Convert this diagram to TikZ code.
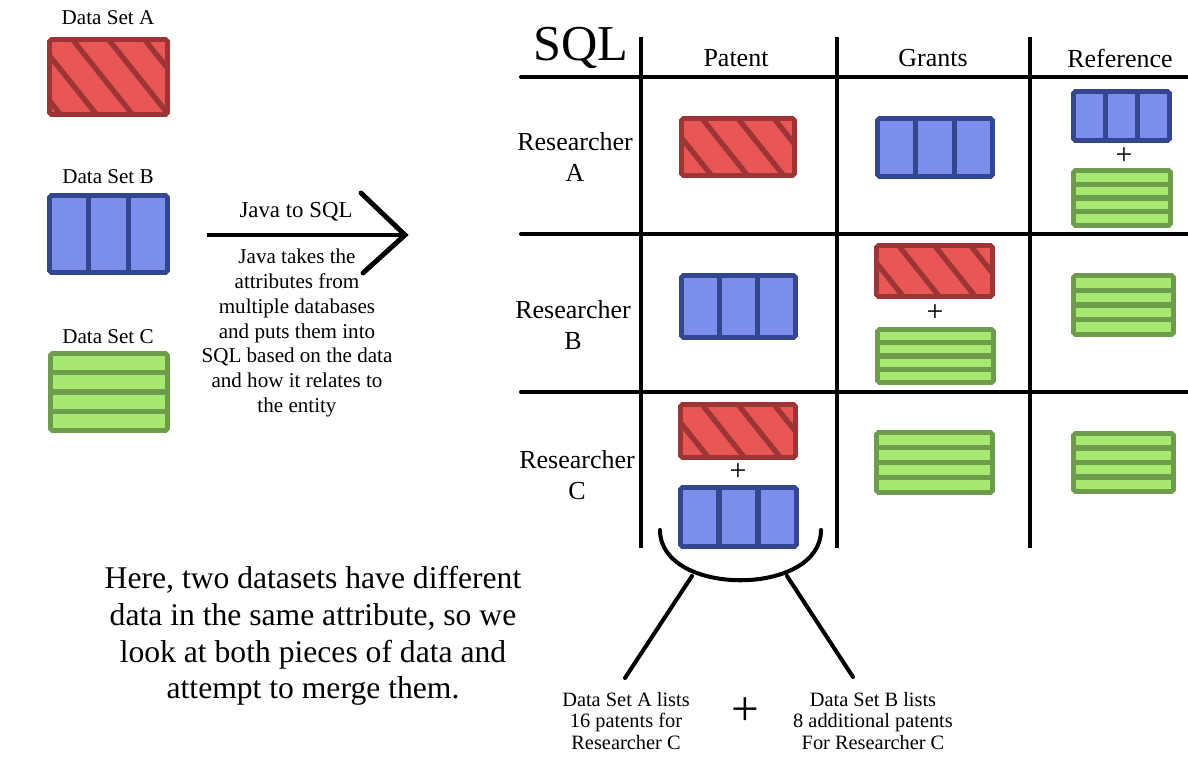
\documentclass[tikz,border=0pt]{standalone}
\usepackage{fontspec}
\setmainfont{Liberation Serif}
\usetikzlibrary{calc}

\definecolor{redfill}{HTML}{E85656}
\definecolor{redline}{HTML}{9E3434}
\definecolor{bluefill}{HTML}{7B8EEC}
\definecolor{blueline}{HTML}{34468F}
\definecolor{greenfill}{HTML}{A6E870}
\definecolor{greenline}{HTML}{6C9C4C}

\tikzset{
  sz/.style 2 args={minimum width=#1*0.02cm, minimum height=#2*0.02cm},
  box/.style={inner sep=0pt, outer sep=0pt, line width=2.6pt, rounded corners=1pt},
  setA/.style={box, draw=redline, fill=redfill, path picture={
      \foreach \s in {-5,...,4}
        \draw[redline, line width=3pt, sharp corners]
          ($(path picture bounding box.north)+(\s*36,0)$) -- ++(100,125);
    }},
  setB/.style={box, draw=blueline, fill=bluefill, path picture={
      \foreach \f in {0.333,0.667}
        \draw[blueline, line width=3pt, sharp corners]
          ($(path picture bounding box.north west)!\f!(path picture bounding box.north east)$) --
          ($(path picture bounding box.south west)!\f!(path picture bounding box.south east)$);
    }},
  setC/.style={box, draw=greenline, fill=greenfill, path picture={
      \foreach \f in {0.25,0.5,0.75}
        \draw[greenline, line width=3pt, sharp corners]
          ($(path picture bounding box.north west)!\f!(path picture bounding box.south west)$) --
          ($(path picture bounding box.north east)!\f!(path picture bounding box.south east)$);
    }},
  lbl/.style={font=\fontsize{12}{14}\selectfont},
  head/.style={font=\fontsize{14.8}{17.6}\selectfont, align=center},
  note/.style={font=\fontsize{12}{14.1}\selectfont, align=center},
  small/.style={font=\fontsize{11.6}{12.2}\selectfont, align=center},
  plus/.style={font=\fontsize{17}{17}\selectfont, inner sep=0pt},
  grid/.style={line width=2.3pt},
  heavy/.style={line width=2.8pt}
}

\begin{document}
\begin{tikzpicture}[x=0.02cm, y=-0.02cm]
  \useasboundingbox (0,0) rectangle (1188,763);

  % data sets on the left
  \node[lbl] (tA) at (108,18) {Data Set A};
  \node[setA, sz={118}{75}] (dA) at (108.5,77) {};
  \node[lbl] (tB) at (108,177) {Data Set B};
  \node[setB, sz={118}{77}] (dB) at (108.5,234) {};
  \node[lbl] (tC) at (108,337) {Data Set C};
  \node[setC, sz={117}{77}] (dC) at (109,392) {};

  % java arrow
  \coordinate (j1) at (207,235);
  \coordinate (j2) at (405,235);
  \coordinate (h1) at (361,193);
  \coordinate (h2) at (363,273);
  \draw[heavy] (j1) -- (j2);
  \draw[heavy, line cap=round] (h1) -- (j2) -- (h2);
  \node[font=\fontsize{13}{14}\selectfont] (jt) at (296,212) {Java to SQL};
  \node[note] (jn) at (297,333) {Java takes the\\attributes from\\multiple databases\\and puts them into\\SQL based on the data\\and how it relates to\\the entity};

  % table
  \node[font=\fontsize{28.6}{30}\selectfont] (sql) at (581,48) {SQL};
  \foreach \x/\n in {641/v1, 837/v2, 1030/v3} {
    \coordinate (\n t) at (\x,37);
    \coordinate (\n b) at (\x,548);
    \draw[grid] (\n t) -- (\n b);
  }
  \foreach \y/\n in {77/h1, 234/h2, 392/h3} {
    \coordinate (\n l) at (521,\y);
    \coordinate (\n r) at (1188,\y);
    \draw[grid, line cap=round] (\n l) -- (\n r);
  }
  \node[head] (patent) at (736,58) {Patent};
  \node[head] (grants) at (933,58) {Grants};
  \node[head] (refer) at (1120,58) {Reference};
  \node[head] (rA) at (575,157) {Researcher\\A};
  \node[head] (rB) at (573,325) {Researcher\\B};
  \node[head] (rC) at (577,475) {Researcher\\C};

  % researcher A
  \node[setA, sz={113}{57}] (aP) at (738,147) {};
  \node[setB, sz={115}{58}] (aG) at (935,147.5) {};
  \node[setB, sz={96}{49}] (aR1) at (1121.5,116) {};
  \node[plus] (aRp) at (1124,156) {+};
  \node[setC, sz={97}{55}] (aR2) at (1122,198) {};

  % researcher B
  \node[setB, sz={114}{62}] (bP) at (738.5,306.5) {};
  \node[setA, sz={116}{51}] (bG1) at (934.5,271) {};
  \node[plus] (bGp) at (935,313) {+};
  \node[setC, sz={116}{53}] (bG2) at (935.5,356) {};
  \node[setC, sz={100}{59}] (bR) at (1123.5,305) {};

  % researcher C
  \node[setA, sz={115}{53}] (cP1) at (738,431) {};
  \node[plus] (cPp) at (738,472) {+};
  \node[setB, sz={116}{59}] (cP2) at (738.5,517) {};
  \node[setC, sz={116}{60}] (cG) at (934.5,462.5) {};
  \node[setC, sz={100}{58}] (cR) at (1123.5,462.5) {};

  % merge bracket
  \coordinate (b1) at (660,530);
  \coordinate (b2) at (821,530);
  \draw[grid, line cap=round] (b1) .. controls (660,597) and (821,597) .. (b2);
  \coordinate (l1) at (692,576);
  \coordinate (l2) at (787,576);
  \node[small] (mA) at (626,721) {Data Set A lists\\16 patents for\\Researcher C};
  \node[small] (mB) at (873,721) {Data Set B lists\\8 additional patents\\For Researcher C};
  \node[font=\fontsize{28}{28}\selectfont, inner sep=0pt] (mp) at (745,712) {+};
  \coordinate (e1) at (625,678);
  \coordinate (e2) at (853,677);
  \draw[grid, line cap=round] (l1) -- (e1);
  \draw[grid, line cap=round] (l2) -- (e2);

  % explanation
  \node[font=\fontsize{18}{20.9}\selectfont, align=center] (expl) at (313,636)
    {Here, two datasets have different\\data in the same attribute, so we\\look at both pieces of data and\\attempt to merge them.};
\end{tikzpicture}
\end{document}
